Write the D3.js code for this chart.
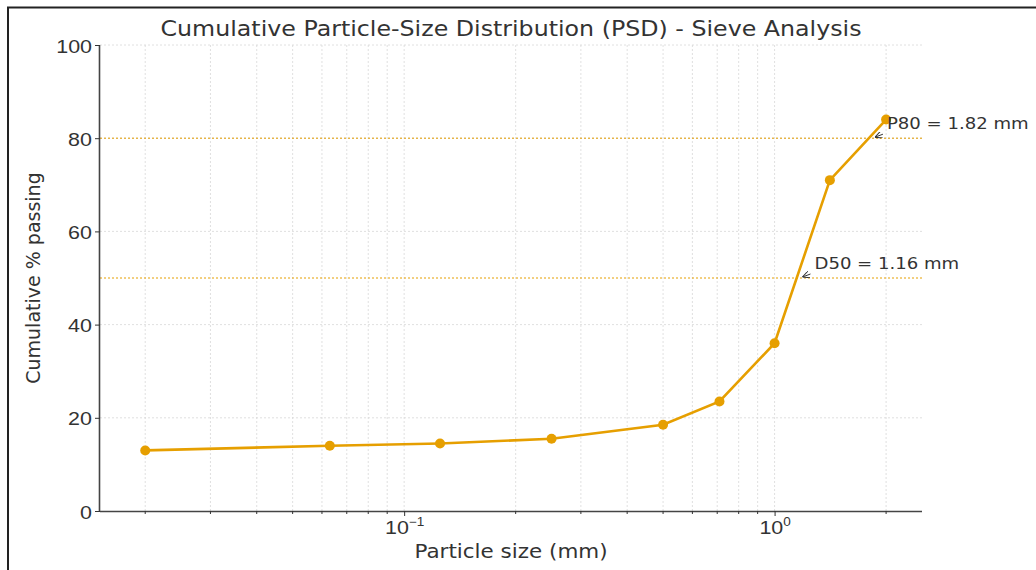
<!DOCTYPE html>
<html>
<head>
<meta charset="utf-8">
<script src="https://cdn.jsdelivr.net/npm/d3@7"></script>
<style>
  body { margin: 0; background: #fff; }
  svg { font-family: "DejaVu Sans", sans-serif; }
</style>
</head>
<body>
<svg width="1036" height="570"></svg>
<script>
// sieve sizes (mm) and cumulative % passing
var sizes = [0.02, 0.063, 0.125, 0.25, 0.5, 0.71, 1.0, 1.41, 2.0];
var passing = [13, 14, 14.5, 15.5, 18.5, 23.5, 36, 71, 84];

var yTicks = [0, 20, 40, 60, 80, 100];
var majorX = [0.1, 1];
var minorX = [0.02, 0.03, 0.04, 0.05, 0.06, 0.07, 0.08, 0.09,
              0.2, 0.3, 0.4, 0.5, 0.6, 0.7, 0.8, 0.9, 2];

var marks = [
  {label: "D50 = 1.16 mm", x: 1.16, y: 50},
  {label: "P80 = 1.82 mm", x: 1.82, y: 80}
];

var orange = "#E69F00",
    ink = "#333",
    sx = 1.13; // the reference text is a bit wider than it is tall

var svg = d3.select("svg"),
    margin = {top: 45, right: 114, bottom: 59, left: 100},
    width = +svg.attr("width") - margin.left - margin.right,
    height = +svg.attr("height") - margin.top - margin.bottom,
    g = svg.append("g").attr("transform", "translate(" + margin.left + "," + margin.top + ")");

// place a stretched text label
function label(sel, x0, y0, size, txt, anchor) {
  return sel.append("text")
      .attr("transform", "translate(" + x0 + "," + y0 + ") scale(" + sx + ",1)")
      .attr("text-anchor", anchor || "middle")
      .attr("font-size", size)
      .attr("fill", ink)
      .text(txt);
}

// outer frame (left + top only visible in the reference)
svg.append("path")
    .attr("d", "M8,570V7.5H1036")
    .attr("fill", "none")
    .attr("stroke", "#222")
    .attr("stroke-width", 2);

var x = d3.scaleLog()
    .domain([0.0151, 2.5])
    .range([0, width]);

var y = d3.scaleLinear()
    .domain([0, 100])
    .range([height, 0]);

// grid
g.selectAll(".vgrid")
  .data(majorX.concat(minorX))
  .enter().append("line")
    .attr("x1", function(d) { return x(d); })
    .attr("x2", function(d) { return x(d); })
    .attr("y1", 0)
    .attr("y2", height)
    .attr("stroke", "#d8d8d8")
    .attr("stroke-width", 0.8)
    .attr("stroke-dasharray", "2,2");

g.selectAll(".hgrid")
  .data(yTicks.slice(1))
  .enter().append("line")
    .attr("x1", 0)
    .attr("x2", width)
    .attr("y1", function(d) { return y(d); })
    .attr("y2", function(d) { return y(d); })
    .attr("stroke", "#d8d8d8")
    .attr("stroke-width", 0.8)
    .attr("stroke-dasharray", "2,2");

// reference lines at 50 and 80 %
g.selectAll(".ref")
  .data(marks)
  .enter().append("line")
    .attr("x1", 0)
    .attr("x2", width)
    .attr("y1", function(d) { return y(d.y); })
    .attr("y2", function(d) { return y(d.y); })
    .attr("stroke", orange)
    .attr("stroke-width", 1)
    .attr("stroke-dasharray", "2,2");

// axes
var xAxis = g.append("g")
    .attr("transform", "translate(0," + height + ")")
    .call(d3.axisBottom(x).tickValues(majorX).tickSize(5).tickFormat(""));

xAxis.append("g").selectAll("line")
  .data(minorX)
  .enter().append("line")
    .attr("x1", function(d) { return x(d); })
    .attr("x2", function(d) { return x(d); })
    .attr("y2", 3)
    .attr("stroke", ink);

xAxis.selectAll(".tick").each(function(d) {
  var t = label(d3.select(this), 0, 23, 19, "10");
  t.append("tspan").attr("dy", -8).attr("font-size", 12)
      .text(Math.round(Math.log10(d)) < 0 ? "\u22121" : "0");
});

var yAxis = g.append("g")
    .call(d3.axisLeft(y).tickValues(yTicks).tickSize(5).tickFormat(""));

yAxis.selectAll(".tick").each(function(d) {
  label(d3.select(this), -8, 7, 19, d, "end");
});

svg.selectAll(".domain").attr("stroke", "#444").attr("stroke-width", 1.6);
svg.selectAll(".tick line").attr("stroke", ink);
xAxis.select(".domain").attr("d", "M0,0.5H" + width);
yAxis.select(".domain").attr("d", "M-0.5," + height + "V0");

// labels
label(svg, 511, 558, 19, "Particle size (mm)");

svg.append("text")
    .attr("transform", "translate(40," + (margin.top + height / 2) + ") rotate(-90)")
    .attr("text-anchor", "middle")
    .attr("font-size", 19)
    .attr("fill", ink)
    .text("Cumulative % passing");

label(svg, 511, 36, 21, "Cumulative Particle-Size Distribution (PSD) - Sieve Analysis");

// curve
var pts = sizes.map(function(s, i) { return {size: s, pass: passing[i]}; });

var line = d3.line()
    .x(function(d) { return x(d.size); })
    .y(function(d) { return y(d.pass); });

g.append("path")
    .datum(pts)
    .attr("d", line)
    .attr("fill", "none")
    .attr("stroke", orange)
    .attr("stroke-width", 2.6);

g.selectAll(".dot")
  .data(pts)
  .enter().append("circle")
    .attr("cx", line.x())
    .attr("cy", line.y())
    .attr("r", 5)
    .attr("fill", orange);

// annotations
svg.append("defs").append("marker")
    .attr("id", "head")
    .attr("viewBox", "0 0 10 10")
    .attr("refX", 10).attr("refY", 5)
    .attr("markerWidth", 7).attr("markerHeight", 7)
    .attr("orient", "auto")
  .append("path")
    .attr("d", "M0,0L10,5L0,10")
    .attr("fill", "none")
    .attr("stroke", ink)
    .attr("stroke-width", 1.5);

var ann = g.selectAll(".ann")
  .data(marks)
  .enter().append("g")
    .attr("transform", function(d) { return "translate(" + x(d.x) + "," + y(d.y) + ")"; });

ann.append("line")
    .attr("x1", 12).attr("y1", -4)
    .attr("x2", 4).attr("y2", -1)
    .attr("stroke", ink)
    .attr("stroke-width", 1)
    .attr("marker-end", "url(#head)");

ann.each(function(d) {
  label(d3.select(this), 16, -9, 16, d.label, "start");
});
</script>
</body>
</html>
